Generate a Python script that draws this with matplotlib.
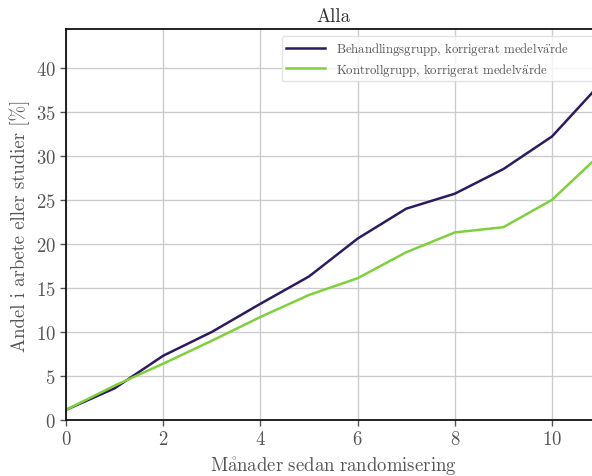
import matplotlib
matplotlib.use('Agg')
import matplotlib.pyplot as plt

plt.rcParams['font.family'] = ['cmr10', 'DejaVu Serif']
plt.rcParams['mathtext.fontset'] = 'cm'
plt.rcParams['axes.unicode_minus'] = False
plt.rcParams['axes.formatter.use_mathtext'] = True

months = [0, 1, 2, 3, 4, 5, 6, 7, 8, 9, 10, 11]
behandling = [1.15, 3.6, 7.3, 10.0, 13.2, 16.3, 20.6, 24.0, 25.7, 28.5, 32.2, 38.2]
kontroll = [1.15, 3.9, 6.4, 9.0, 11.7, 14.2, 16.1, 19.05, 21.3, 21.9, 25.0, 30.2]

labels = ['Behandlingsgrupp, korrigerat medelv$\\ddot{\\mathrm{a}}$rde',
          'Kontrollgrupp, korrigerat medelv$\\ddot{\\mathrm{a}}$rde']
colors = ['#2d1b62', '#7fd13b']

fig = plt.figure(figsize=(5.92, 4.77), dpi=100)
ax = fig.add_axes([0.1115, 0.1174, 0.903, 0.8196])

ax.plot(months, behandling, color=colors[0], lw=1.8, label=labels[0])
ax.plot(months, kontroll, color=colors[1], lw=1.8, label=labels[1])

ax.set_xlim(0, 11)
ax.set_ylim(0, 44.4)
ax.set_xticks([0, 2, 4, 6, 8, 10])
ax.set_yticks([0, 5, 10, 15, 20, 25, 30, 35, 40])
ax.grid(True, color='#cccccc', lw=1.0)
ax.set_axisbelow(True)
ax.tick_params(labelsize=13.5, length=4, width=1.0, colors='#555555', labelcolor='#555555')
for s in ax.spines.values():
    s.set_linewidth(1.3)
    s.set_color('#111111')

ax.set_title('Alla', fontsize=13.5, color='#333333')
ax.set_xlabel('$\\mathrm{M\\mathring{a}nader\\ sedan\\ randomisering}$', fontsize=13.5, color='#555555')
ax.set_ylabel('Andel i arbete eller studier [%]', fontsize=13.5, color='#555555')

# legend box runs past the right edge of the picture, like the reference
leg = ax.legend(loc='upper left', bbox_to_anchor=(0.4035, 0.5, 0.586, 0.481),
                mode='expand', borderaxespad=0,
                fontsize=9.2, frameon=True, fancybox=True, framealpha=0.8,
                edgecolor='#dddddd', handlelength=3.1, handletextpad=0.85,
                labelspacing=0.25, borderpad=0.3)
for t in leg.get_texts():
    t.set_color('#555555')

fig.savefig('out.png', dpi=100)
